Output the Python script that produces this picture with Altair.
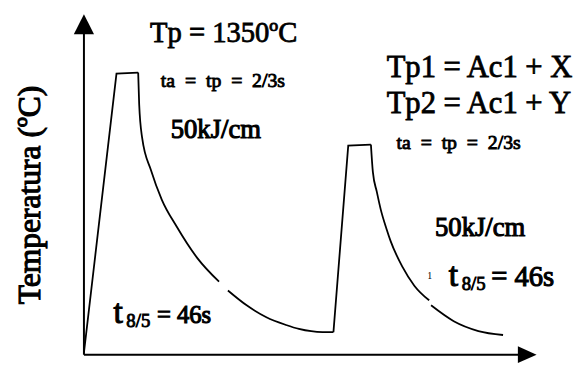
import altair as alt
import pandas as pd

# ---- thermal cycle (time units, temperature in ºC) ----
rise1_t = [0.0, 6.6, 11.0]
rise1_T = [9, 1345, 1350]
decay1a_t = [11.0, 11.2, 11.8, 13.6, 15.8, 18.8, 23.0, 27.4]
decay1a_T = [1350, 1199, 1038, 882, 741, 613, 462, 349]
decay1b_t = [29.2, 33.0, 37.0, 41.0, 43.6, 48.4, 50.6]
decay1b_T = [307, 236, 179, 142, 123, 108, 108]
rise2_t = [50.6, 53.6, 58.2]
rise2_T = [108, 1000, 1005]
decay2a_t = [58.2, 58.6, 59.4, 60.2, 61.4, 62.2, 64.6, 67.0, 70.0]
decay2a_T = [1005, 873, 779, 694, 599, 543, 420, 330, 260]
decay2b_t = [70.4, 75.0, 80.0, 85.0]
decay2b_T = [236, 160, 113, 94]

# axis extents (time end, temperature end)
axis_t_end = 89.0
axis_T_end = 1560
arrow_t = 89.9
arrow_T = 1581

NB = "\u00a0"
TA = "ta" + NB * 2 + "=" + NB * 2 + "tp" + NB * 2 + "=" + NB * 2 + "2/3s"
# annotation texts and their anchor (time, temperature)
labels = ["Tp = 1350ºC", TA, "50kJ/cm",
          "Tp1 = Ac1 + X", "Tp2 = Ac1 + Y", TA, "50kJ/cm",
          "t", "8/5", "= 46s", "1",
          "t", "8/5", "= 46s"]
label_t = [13.4, 15.6, 17.6,
           61.4, 61.4, 63.4, 71.2,
           74.0, 76.6, 82.6, 69.6,
           6.0, 8.6, 14.8]
label_T = [1496, 1279, 1038,
           1331, 1156, 986, 566,
           330, 311, 330, 363,
           151, 132, 151]
y_title = "Temperatura (ºC)"
y_title_t = -11.0
y_title_T = 764

# ---- build tables ----
rows = []
def add(seg, kind, ts, Ts):
    for i, (a, b) in enumerate(zip(ts, Ts)):
        rows.append({"t": a, "T": b, "seg": seg, "kind": kind, "i": i})

add("r1", "straight", rise1_t, rise1_T)
add("d1a", "decay", decay1a_t, decay1a_T)
add("d1b", "decay", decay1b_t, decay1b_T)
add("r2", "straight", rise2_t, rise2_T)
add("d2a", "decay", decay2a_t, decay2a_T)
add("d2b", "decay", decay2b_t, decay2b_T)
curve = pd.DataFrame(rows)

xs = alt.Scale(domain=[-15.4, 100.4], nice=False, zero=False)
ys = alt.Scale(domain=[-37.75, 1647], nice=False, zero=False)
X = lambda f: alt.X(f, type="quantitative", scale=xs, axis=None)
Y = lambda f: alt.Y(f, type="quantitative", scale=ys, axis=None)

base = alt.Chart(curve)
straight = base.transform_filter(alt.datum.kind == "straight").mark_line(
    color="black", strokeWidth=1.8, interpolate="linear"
).encode(x=X("t"), y=Y("T"), detail="seg:N", order="i:Q")
decay = base.transform_filter(alt.datum.kind == "decay").mark_line(
    color="black", strokeWidth=1.8, interpolate="monotone"
).encode(x=X("t"), y=Y("T"), detail="seg:N", order="i:Q")

axes_df = pd.DataFrame({
    "t0": [0.0, 0.0], "t1": [axis_t_end, 0.0],
    "T0": [0, 0], "T1": [0, axis_T_end],
})
axes = alt.Chart(axes_df).mark_rule(color="black", strokeWidth=2).encode(
    x=X("t0"), x2="t1", y=Y("T0"), y2="T1")

up_arrow = alt.Chart(pd.DataFrame({"t": [0.0], "T": [arrow_T]})).mark_point(
    shape="M0,-1L1,1L-1,1Z", filled=True, size=420, color="black", opacity=1,
    strokeWidth=0).encode(x=X("t"), y=Y("T"))
right_arrow = alt.Chart(pd.DataFrame({"t": [arrow_t], "T": [0]})).mark_point(
    shape="M1,0L-1,-0.9L-1,0.9Z", filled=True, size=361, color="black", opacity=1,
    strokeWidth=0).encode(x=X("t"), y=Y("T"))

font = "Liberation Serif"
sizes = [29, 20, 27, 31, 31, 20, 27, 34, 19, 29, 10, 34, 19, 25]
strokes = [0.8, 0.9, 1.1, 0.8, 0.8, 0.9, 1.1, 1.1, 0.9, 1.1, 0, 1.1, 0.9, 1.1]
texts = []
for lab, tt, TT, fs, sw in zip(labels, label_t, label_T, sizes, strokes):
    texts.append(
        alt.Chart(pd.DataFrame({"t": [tt], "T": [TT], "lab": [lab]})).mark_text(
            font=font, fontSize=fs, align="left", baseline="alphabetic",
            color="black", stroke="black", strokeWidth=sw
        ).encode(x=X("t"), y=Y("T"), text="lab:N")
    )

ytitle = alt.Chart(pd.DataFrame({"t": [y_title_t], "T": [y_title_T], "lab": [y_title]})).mark_text(
    font=font, fontSize=32, angle=270, align="center", baseline="middle",
    color="black", stroke="black", strokeWidth=1.1
).encode(x=X("t"), y=Y("T"), text="lab:N")

chart = alt.layer(axes, up_arrow, right_arrow, straight, decay, ytitle, *texts).properties(
    width=579, height=357, padding=0,
    autosize=alt.AutoSizeParams(type="none"),
).configure(background="white", view=alt.ViewConfig(stroke=None))

chart.save("out.html", embed_options={"renderer": "svg", "actions": False})
